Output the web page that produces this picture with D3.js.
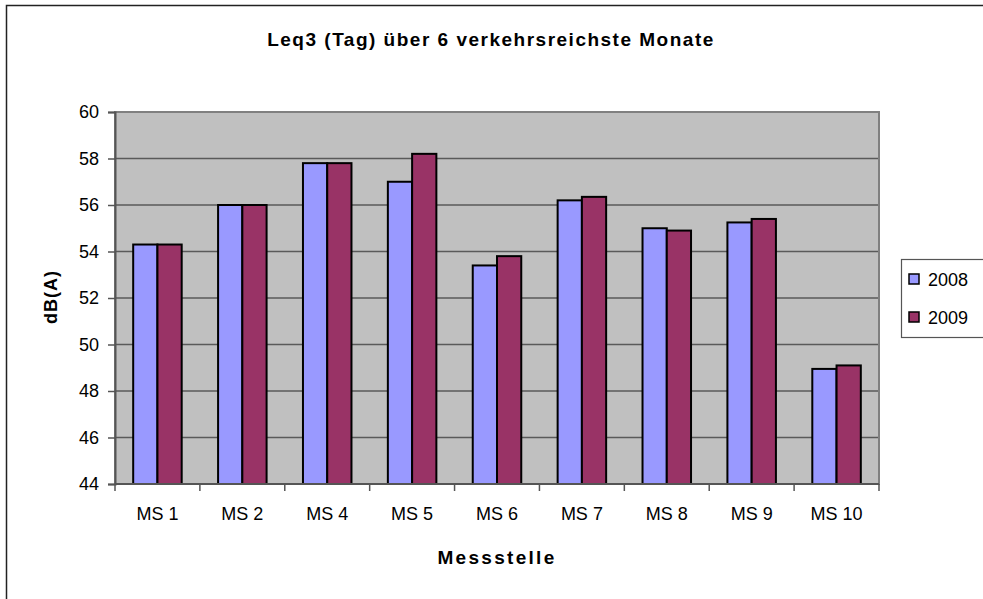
<!DOCTYPE html>
<html>
<head>
<meta charset="utf-8">
<script src="https://cdn.jsdelivr.net/npm/d3@7"></script>
<style>
  html, body { margin:0; padding:0; background:#fff; }
  svg text { font-family: "Liberation Sans", Arial, sans-serif; fill:#000; }
</style>
</head>
<body>
<div id="chart"></div>
<script>
// chart data
const categories = ["MS 1", "MS 2", "MS 4", "MS 5", "MS 6", "MS 7", "MS 8", "MS 9", "MS 10"];
const seriesNames = ["2008", "2009"];
const values2008 = [54.3, 56.0, 57.8, 57.0, 53.4, 56.2, 55.0, 55.25, 48.95];
const values2009 = [54.3, 56.0, 57.8, 58.2, 53.8, 56.35, 54.9, 55.4, 49.1];
const yTicks = [44, 46, 48, 50, 52, 54, 56, 58, 60];

const COLORS = { "2008": "#9999FF", "2009": "#993366" };

const W = 983, H = 599;
const plot = { left:115, right:879, top:112, bottom:484 };

const svg = d3.select("#chart").append("svg")
  .attr("width", W).attr("height", H);

// outer chart frame (runs off right and bottom edge like the original)
svg.append("rect")
  .attr("x", 6.5).attr("y", 5.5)
  .attr("width", 1000).attr("height", 620)
  .attr("fill", "#fff")
  .attr("stroke", "#222").attr("stroke-width", 1.5);

svg.append("text")
  .attr("x", 491).attr("y", 46)
  .attr("text-anchor", "middle")
  .style("font-size", "19px").style("font-weight", "bold")
  .style("letter-spacing", "1.5px")
  .text("Leq3 (Tag) über 6 verkehrsreichste Monate");

const y = d3.scaleLinear().domain([44, 60]).range([plot.bottom, plot.top]);

const x0 = d3.scaleBand()
  .domain(categories)
  .range([plot.left, plot.right])
  .paddingInner(1.5 / 3.5)
  .paddingOuter(0.75 / 3.5);

const x1 = d3.scaleBand()
  .domain(seriesNames)
  .range([0, x0.bandwidth()]);

// plot background
svg.append("rect")
  .attr("x", plot.left).attr("y", plot.top)
  .attr("width", plot.right - plot.left)
  .attr("height", plot.bottom - plot.top)
  .attr("fill", "#C0C0C0");

// gridlines
svg.append("g").selectAll("line")
  .data(yTicks.filter(t => t > 44 && t < 60))
  .enter().append("line")
  .attr("x1", plot.left).attr("x2", plot.right)
  .attr("y1", d => y(d)).attr("y2", d => y(d))
  .attr("stroke", "#5a5a5a").attr("stroke-width", 1.5);

// plot border
svg.append("rect")
  .attr("x", plot.left).attr("y", plot.top)
  .attr("width", plot.right - plot.left)
  .attr("height", plot.bottom - plot.top)
  .attr("fill", "none")
  .attr("stroke", "#808080").attr("stroke-width", 2);

// bars
const rows = categories.map((c, i) => ({ cat: c, vals: [
  { key: "2008", v: values2008[i] },
  { key: "2009", v: values2009[i] }
]}));

const grp = svg.append("g").selectAll("g")
  .data(rows)
  .enter().append("g")
  .attr("transform", d => `translate(${x0(d.cat)},0)`);

grp.selectAll("rect")
  .data(d => d.vals)
  .enter().append("rect")
  .attr("x", d => x1(d.key))
  .attr("y", d => y(d.v))
  .attr("width", x1.bandwidth())
  .attr("height", d => y(44) - y(d.v))
  .attr("fill", d => COLORS[d.key])
  .attr("stroke", "#000").attr("stroke-width", 2);

// y axis
const yAxis = svg.append("g")
  .attr("transform", `translate(${plot.left},0)`)
  .call(d3.axisLeft(y).tickValues(yTicks).tickSize(7).tickPadding(9).tickFormat(d3.format("d")));
yAxis.select(".domain").attr("stroke", "#555").attr("stroke-width", 2);
yAxis.selectAll(".tick line").attr("stroke", "#555").attr("stroke-width", 1.5);
yAxis.selectAll("text")
  .style("font-size", "18px")
  .style("font-family", "'Liberation Sans', Arial, sans-serif")
  .attr("fill", "#000");

// x axis with ticks between categories
const xAxis = svg.append("g")
  .attr("transform", `translate(0,${plot.bottom})`);
xAxis.append("line")
  .attr("x1", plot.left).attr("x2", plot.right)
  .attr("stroke", "#555").attr("stroke-width", 2);
const step = x0.step();
xAxis.selectAll("line.tk")
  .data(d3.range(categories.length + 1))
  .enter().append("line")
  .attr("class", "tk")
  .attr("x1", i => plot.left + i * step).attr("x2", i => plot.left + i * step)
  .attr("y1", 0).attr("y2", 7)
  .attr("stroke", "#555").attr("stroke-width", 1.5);
xAxis.selectAll("text")
  .data(categories)
  .enter().append("text")
  .attr("x", d => x0(d) + x0.bandwidth() / 2)
  .attr("y", 36)
  .attr("text-anchor", "middle")
  .style("font-size", "18px")
  .text(d => d);

// axis titles
svg.append("text")
  .attr("x", (plot.left + plot.right) / 2).attr("y", 564)
  .attr("text-anchor", "middle")
  .style("font-size", "19px").style("font-weight", "bold")
  .style("letter-spacing", "2.3px")
  .text("Messstelle");

svg.append("text")
  .attr("transform", "translate(57,297) rotate(-90)")
  .attr("text-anchor", "middle")
  .style("font-size", "18px").style("font-weight", "bold")
  .style("letter-spacing", "1px")
  .text("dB(A)");

// legend
const legend = svg.append("g");
legend.append("rect")
  .attr("x", 901.5).attr("y", 259.5)
  .attr("width", 100).attr("height", 78)
  .attr("fill", "#fff")
  .attr("stroke", "#555").attr("stroke-width", 1.2);

const li = legend.selectAll("g.item")
  .data(seriesNames)
  .enter().append("g")
  .attr("class", "item")
  .attr("transform", (d, i) => `translate(909,${279 + i * 38})`);
li.append("rect")
  .attr("x", 0).attr("y", -5)
  .attr("width", 10).attr("height", 10)
  .attr("fill", d => COLORS[d])
  .attr("stroke", "#000").attr("stroke-width", 1.5);
li.append("text")
  .attr("x", 19).attr("y", 6.5)
  .style("font-size", "18px")
  .text(d => d);
</script>
</body>
</html>
